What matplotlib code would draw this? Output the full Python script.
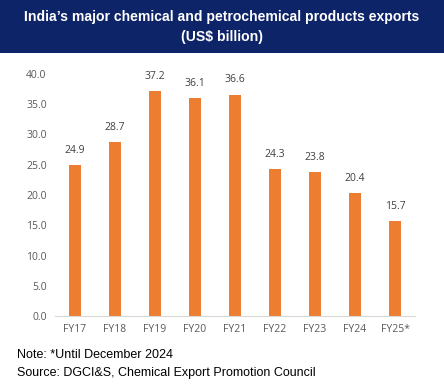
import matplotlib
matplotlib.use("Agg")
import matplotlib.pyplot as plt
from matplotlib.patches import Rectangle

categories = ["FY17", "FY18", "FY19", "FY20", "FY21", "FY22", "FY23", "FY24", "FY25*"]
values = [24.9, 28.7, 37.2, 36.1, 36.6, 24.3, 23.8, 20.4, 15.7]
yticks = [0, 5, 10, 15, 20, 25, 30, 35, 40]

W, H = 444, 388
fig = plt.figure(figsize=(W/100, H/100), dpi=100)
fig.patch.set_facecolor("white")

# header band
fig.patches.append(Rectangle((0, 1 - 53/H), 1, 53/H, transform=fig.transFigure,
                             facecolor="#0E2469", edgecolor="none", zorder=0))
fig.text(0.5, 1 - 17/H, "India\u2019s major chemical and petrochemical products exports",
         ha="center", va="center", color="white", fontsize=10.1, fontweight="bold",
         family="Liberation Sans")
fig.text(0.5, 1 - 37/H, "(US$ billion)", ha="center", va="center", color="white",
         fontsize=10.1, fontweight="bold", family="Liberation Sans")

ax = fig.add_axes([55/W, (H-316)/H, 360/W, (316-74)/H])
x = range(len(categories))
ax.bar(x, values, width=0.32, color="#ED7D31", zorder=2)
for xi, v in zip(x, values):
    ax.text(xi, v + 1.5, f"{v:.1f}", ha="center", va="bottom", fontsize=7.5,
            color="#404040", family="Open Sans")
ax.set_xlim(-0.5, len(categories) - 0.5)
ax.set_ylim(0, 40)
ax.set_yticks(yticks)
ax.set_yticklabels([f"{t:.1f}" for t in yticks])
ax.set_xticks(list(x))
ax.set_xticklabels(categories)
for s in ["top", "right", "left"]:
    ax.spines[s].set_visible(False)
ax.spines["bottom"].set_color("#D9D9D9")
ax.tick_params(axis="both", length=0, labelsize=7.5, labelcolor="#595959")
ax.tick_params(axis="y", pad=6)
ax.tick_params(axis="x", pad=6)
for lbl in ax.get_xticklabels() + ax.get_yticklabels():
    lbl.set_family("Open Sans")

fig.text(17/W, 1 - 355/H, "Note: *Until December 2024", ha="left", va="center",
         fontsize=9, color="black", family="Liberation Sans")
fig.text(17/W, 1 - 373/H, "Source: DGCI&S, Chemical Export Promotion Council", ha="left",
         va="center", fontsize=9, color="black", family="Liberation Sans")

fig.savefig("out.png", dpi=100)
